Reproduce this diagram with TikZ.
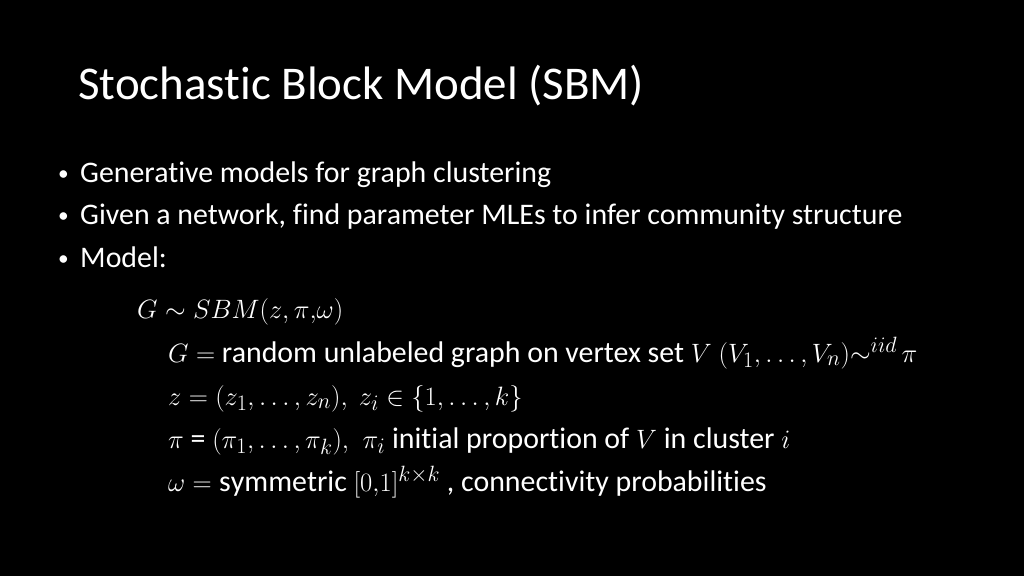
\documentclass[tikz,border=0pt]{standalone}
\usepackage{fontspec}
\setmainfont{Carlito}[Ligatures=NoCommon]
\usepackage{tikz}

\begin{document}
\begin{tikzpicture}[%
      x=0.9375pt, y=-0.9375pt,
      txt/.style={anchor=base west, inner sep=0pt, text=white, font=\fontsize{28}{32}\selectfont},
      dot/.style={anchor=base west, inner sep=0pt, text=white, font=\fontsize{20}{24}\selectfont},
      ]
      \fill [color=black] (0,0) rectangle (1024,576);
      \useasboundingbox (0,0) rectangle (1024,576);

      \node [txt, font=\fontsize{44}{50}\selectfont] (title) at (78,100) {Stochastic Block Model (SBM)};

      \node [dot] (b1) at (58,180) {•};
      \node [dot] (b2) at (58,222) {•};
      \node [dot] (b3) at (58,265) {•};
      \node [txt] (item1) at (80,182) {Generative models for graph clustering};
      \node [txt] (item2) at (80,224) {Given a network, find parameter MLEs to infer community structure};
      \node [txt] (item3) at (80,267) {Model:};

      \node [txt, font=\fontsize{32}{36}\selectfont] (model) at (137,318) {$G\sim SBM(z,\pi{,}\omega)$};
      \node [txt] (lineG) at (168,362) {$G=$ random unlabeled graph on vertex set $V$ $(V_1,\ldots,V_n){\sim}^{iid}\,\pi$};
      \node [txt] (linez) at (168,405) {$z=(z_1,\ldots,z_n),\ z_i\in\{1,\ldots,k\}$};
      \node [txt] (linepi) at (168,448) {$\pi$ = $(\pi_1,\ldots,\pi_k),$ \ $\pi_i$ initial proportion of $V$ in cluster $i$};
      \node [txt] (lineomega) at (168,491) {$\omega=\mathrm{symmetric}\ [0{,}1]^{k\times k}$ , connectivity probabilities};
      \end{tikzpicture}
\end{document}
